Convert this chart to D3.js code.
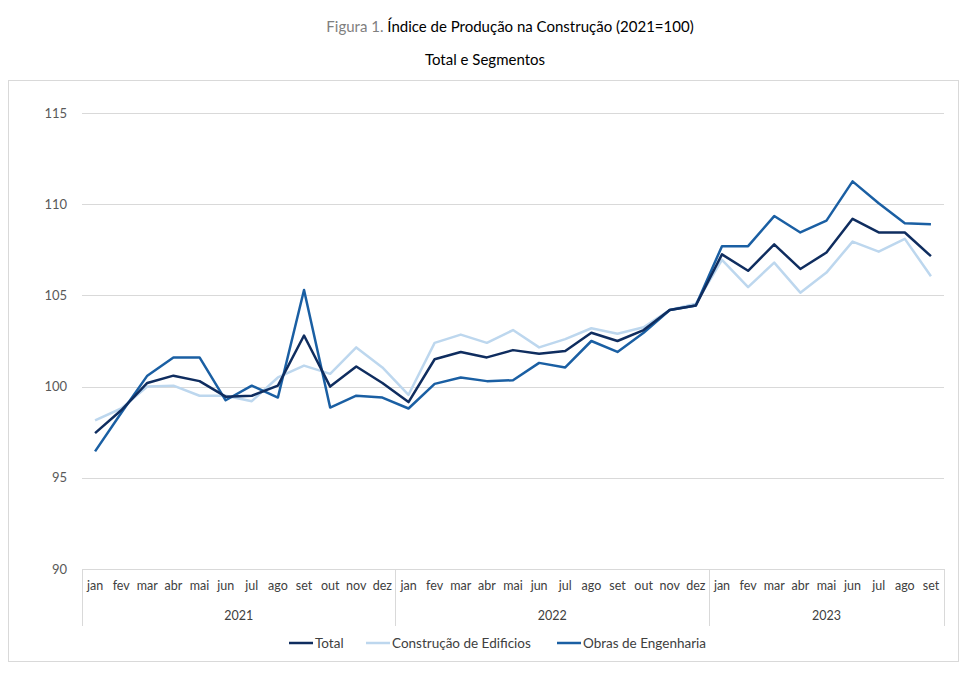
<!DOCTYPE html>
<html>
<head>
<meta charset="utf-8">
<script src="https://cdn.jsdelivr.net/npm/d3@7"></script>
<style>
  body { margin: 0; background: #fff; }
  text { font-family: Lato, "Open Sans", sans-serif; }
</style>
</head>
<body>
<div id="chart"></div>
<script>
// data
var years = ['2021', '2022', '2023'];
var months = ['jan', 'fev', 'mar', 'abr', 'mai', 'jun', 'jul', 'ago', 'set', 'out', 'nov', 'dez'];
var monthsPerYear = [12, 12, 9];

var total = [97.45, 98.7, 100.2, 100.6, 100.3, 99.45, 99.5, 100.05, 102.8, 100.0, 101.1, 100.2,
  99.15, 101.5, 101.9, 101.6, 102.0, 101.8, 101.95, 102.95, 102.5, 103.1, 104.2, 104.45,
  107.25, 106.35, 107.8, 106.45, 107.35, 109.2, 108.45, 108.45, 107.15];
var edificios = [98.15, 98.8, 100.0, 100.05, 99.5, 99.5, 99.2, 100.5, 101.15, 100.7, 102.15, 101.05,
  99.55, 102.4, 102.85, 102.4, 103.1, 102.15, 102.6, 103.2, 102.9, 103.25, 104.2, 104.55,
  106.95, 105.45, 106.8, 105.15, 106.25, 107.95, 107.4, 108.1, 106.05];
var obras = [96.45, 98.55, 100.6, 101.6, 101.6, 99.25, 100.05, 99.4, 105.3, 98.85, 99.5, 99.4,
  98.8, 100.15, 100.5, 100.3, 100.35, 101.3, 101.05, 102.5, 101.9, 102.95, 104.2, 104.45,
  107.7, 107.7, 109.35, 108.45, 109.1, 111.25, 110.05, 108.95, 108.9];
var yTicks = [90, 95, 100, 105, 110, 115];

var seriesNames = ['Total', 'Construção de Edificios', 'Obras de Engenharia'];
var seriesColors = ['#0f2d5f', '#bdd7ee', '#1a5fa3'];

var width = 977, height = 682;
var plotLeft = 82, plotRight = 944, plotTop = 113, plotBottom = 569;

var keys = [];
years.forEach(function (yr, yi) {
  for (var m = 0; m < monthsPerYear[yi]; m++) keys.push(yr + '-' + months[m]);
});

var svg = d3.select('#chart').append('svg')
  .attr('width', width)
  .attr('height', height);

// outer frame
svg.append('rect')
  .attr('x', 8.5).attr('y', 80.5)
  .attr('width', 950).attr('height', 581)
  .attr('fill', 'none')
  .attr('stroke', '#d9d9d9');

// titles
var t1 = svg.append('text')
  .attr('x', 510).attr('y', 32)
  .attr('text-anchor', 'middle')
  .style('font-size', '15px');
t1.append('tspan').attr('fill', '#7f7f7f').text('Figura 1. ');
t1.append('tspan').attr('fill', '#000').text('Índice de Produção na Construção (2021=100)');

svg.append('text')
  .attr('x', 485).attr('y', 65)
  .attr('text-anchor', 'middle')
  .style('font-size', '15px')
  .attr('fill', '#000')
  .text('Total e Segmentos');

var x = d3.scaleBand().domain(keys).range([plotLeft, plotRight]);
var y = d3.scaleLinear().domain([90, 115]).range([plotBottom, plotTop]);

// gridlines
svg.append('g')
  .selectAll('line')
  .data(yTicks)
  .enter()
  .append('line')
  .attr('x1', plotLeft).attr('x2', plotRight)
  .attr('y1', function (d) { return Math.round(y(d)) + 0.5; })
  .attr('y2', function (d) { return Math.round(y(d)) + 0.5; })
  .attr('stroke', '#d9d9d9')
  .attr('stroke-width', 1);

// y axis labels
var yAxis = d3.axisLeft(y).tickValues(yTicks).tickSize(0).tickPadding(0);
var gy = svg.append('g')
  .attr('transform', 'translate(67,0)')
  .call(yAxis);
gy.select('.domain').remove();
gy.selectAll('text')
  .style('font-size', '13px')
  .style('font-family', 'Lato, sans-serif')
  .attr('fill', '#595959');

// month labels
var xAxis = d3.axisBottom(x).tickSize(0).tickPadding(0)
  .tickFormat(function (d) { return d.split('-')[1]; });
var gx = svg.append('g')
  .attr('transform', 'translate(0,' + (plotBottom + 12) + ')')
  .call(xAxis);
gx.select('.domain').remove();
gx.selectAll('text')
  .style('font-size', '12.5px')
  .style('font-family', 'Lato, sans-serif')
  .attr('fill', '#404040');

// year separators and labels
var start = 0, bounds = [];
years.forEach(function (yr, yi) {
  var first = keys[start], last = keys[start + monthsPerYear[yi] - 1];
  bounds.push({ year: yr, x0: x(first), x1: x(last) + x.bandwidth() });
  start += monthsPerYear[yi];
});
var sepX = [bounds[0].x0].concat(bounds.map(function (b) { return b.x1; }));
svg.append('g')
  .selectAll('line')
  .data(sepX)
  .enter()
  .append('line')
  .attr('x1', function (d) { return Math.round(d) + 0.5; })
  .attr('x2', function (d) { return Math.round(d) + 0.5; })
  .attr('y1', plotBottom).attr('y2', 626)
  .attr('stroke', '#d9d9d9');

svg.append('g')
  .selectAll('text')
  .data(bounds)
  .enter()
  .append('text')
  .attr('x', function (d) { return (d.x0 + d.x1) / 2; })
  .attr('y', 620)
  .attr('text-anchor', 'middle')
  .style('font-size', '12.5px')
  .attr('fill', '#404040')
  .text(function (d) { return d.year; });

// lines
var line = d3.line()
  .x(function (d, i) { return x(keys[i]) + x.bandwidth() / 2; })
  .y(function (d) { return y(d); });

var drawOrder = [[edificios, 1], [obras, 2], [total, 0]];
drawOrder.forEach(function (s) {
  svg.append('path')
    .datum(s[0])
    .attr('d', line)
    .attr('fill', 'none')
    .attr('stroke', seriesColors[s[1]])
    .attr('stroke-width', 2.5)
    .attr('stroke-linejoin', 'round');
});

// legend
var legendX = [289, 366, 557];
var legend = svg.append('g');
seriesNames.forEach(function (name, i) {
  legend.append('line')
    .attr('x1', legendX[i]).attr('x2', legendX[i] + 24)
    .attr('y1', 643).attr('y2', 643)
    .attr('stroke', seriesColors[i])
    .attr('stroke-width', 2.5);
  legend.append('text')
    .attr('x', legendX[i] + 26).attr('y', 648)
    .style('font-size', '13.5px')
    .attr('fill', '#404040')
    .text(name);
});
</script>
</body>
</html>
